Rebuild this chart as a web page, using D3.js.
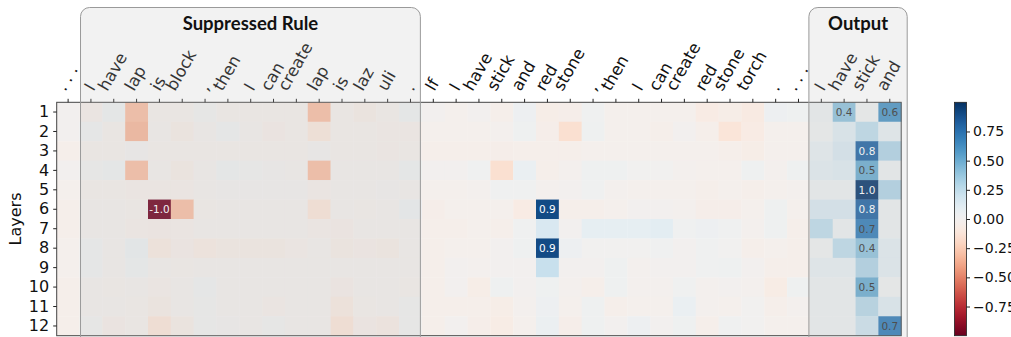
<!DOCTYPE html>
<html>
<head>
<meta charset="utf-8">
<script src="https://cdn.jsdelivr.net/npm/d3@7"></script>
<style>
  html, body { margin: 0; padding: 0; background: #fff; }
  svg { display: block; }
</style>
</head>
<body>
<svg id="chart" width="1011" height="337"></svg>
<script>
// Token labels along the top axis (context prompt, then generated output)
const tokens = [
  ". . .", "I", "have", "lap", "is", "block", ",", "then", "I", "can", "create", "lap", "is", "laz", "uli", ".",
  "If", "I", "have", "stick", "and", "red", "stone", ",", "then", "I", "can", "create", "red", "stone", "torch", ".", ". . .",
  "I", "have", "stick", "and"
];

// Layer names on the left axis
const layers = ["1", "2", "3", "4", "5", "6", "7", "8", "9", "10", "11", "12"];

// Highlighted token spans (column index ranges)
const sections = [
  { title: "Suppressed Rule", from: 1, to: 15 },
  { title: "Output", from: 33, to: 36 }
];

// Colorbar ticks
const colorTicks = [-0.75, -0.5, -0.25, 0, 0.25, 0.5, 0.75];

// Attribution value per layer (rows) and token (columns)
const layer1  = [0, -0.03, 0.03, -0.3, -0.02, -0.02, 0.01, -0.02, -0.02, -0.02, -0.02, -0.3, -0.02, -0.05, -0.02, 0.03,
                 0, -0.02, 0, -0.03, 0.04, -0.05, -0.04, 0.02, -0.02, -0.02, -0.02, -0.02, -0.07, -0.05, -0.08, 0.04, 0.03,
                 0.05, 0.4, 0.03, 0.6];
const layer2  = [0, 0.02, -0.02, -0.33, -0.01, -0.05, -0.01, 0.02, -0.01, -0.04, -0.02, -0.1, -0.02, -0.02, -0.03, -0.03,
                 -0.02, -0.02, -0.02, -0.01, 0.03, -0.04, -0.15, 0.03, -0.02, -0.02, -0.03, 0, -0.03, -0.12, -0.07, -0.02, -0.02,
                 0.03, 0.12, 0.25, 0.08];
const layer3  = [-0.03, -0.02, -0.02, 0, -0.02, -0.02, -0.02, -0.02, -0.02, -0.02, -0.02, 0, -0.02, -0.02, -0.03, -0.02,
                 -0.03, -0.03, -0.03, -0.04, -0.03, -0.03, -0.03, -0.02, -0.02, -0.02, -0.02, -0.02, -0.02, -0.03, -0.05, -0.02, -0.02,
                 0.08, 0.15, 0.8, 0.3];
const layer4  = [0, 0.01, 0.03, -0.3, -0.01, -0.05, -0.01, 0.03, 0.01, 0, -0.01, -0.3, -0.01, -0.01, -0.01, 0.03,
                 0, 0, 0.02, -0.15, 0.06, -0.03, -0.01, 0.03, 0.03, 0.01, 0.01, -0.01, -0.02, -0.02, 0.03, -0.01, 0.03,
                 0.1, 0.12, 0.5, 0.05];
const layer5  = [-0.02, -0.02, -0.02, -0.03, -0.03, -0.03, -0.01, 0, 0, 0, 0, -0.03, -0.01, -0.01, 0, -0.01,
                 -0.02, -0.02, -0.01, 0.02, 0.02, -0.01, 0, 0.02, -0.01, -0.02, -0.02, -0.02, -0.03, -0.02, -0.03, -0.02, -0.01,
                 0.05, 0.05, 0.97, 0.3];
const layer6  = [-0.03, -0.01, -0.01, -0.02, -0.98, -0.3, -0.02, -0.01, -0.01, -0.01, -0.01, -0.12, -0.01, -0.02, -0.01, 0.04,
                 -0.04, -0.02, -0.02, -0.02, -0.07, 0.9, -0.03, -0.03, -0.02, 0, 0, -0.01, -0.04, -0.04, -0.02, 0.03, -0.02,
                 0.15, 0.15, 0.8, 0.05];
const layer7  = [-0.03, -0.01, -0.01, -0.03, -0.04, -0.03, -0.01, -0.01, -0.01, -0.01, -0.01, -0.03, -0.04, -0.01, -0.01, -0.01,
                 -0.03, -0.03, -0.02, -0.03, 0.02, 0.15, 0, 0.08, 0.08, 0.08, 0.1, 0.02, 0.04, 0.02, -0.01, 0.03, -0.03,
                 0.25, 0.05, 0.7, 0.05];
const layer8  = [-0.02, 0.02, -0.01, 0.05, -0.08, -0.04, -0.07, -0.05, -0.05, -0.05, -0.03, -0.01, -0.05, -0.04, -0.05, -0.01,
                 -0.03, -0.02, -0.02, 0, 0.03, 0.9, 0.04, 0.01, 0.01, 0.01, 0.02, 0, 0.02, 0.01, -0.03, -0.02, -0.03,
                 0.03, 0.25, 0.4, 0.1];
const layer9  = [-0.02, 0.02, -0.01, 0.03, -0.01, -0.02, -0.01, -0.01, -0.01, -0.01, -0.01, -0.01, -0.01, -0.01, -0.01, -0.01,
                 -0.03, 0, -0.01, 0, 0, 0.22, 0, 0, 0.03, -0.01, 0, 0, 0.02, 0.03, 0, -0.03, -0.03,
                 0.08, 0.08, 0.3, 0.1];
const layer10 = [-0.03, -0.01, -0.02, -0.01, -0.03, -0.01, 0.02, -0.01, -0.01, -0.01, -0.01, -0.01, -0.04, -0.01, -0.01, -0.02,
                 -0.03, 0, -0.05, 0.03, 0, 0.03, -0.01, -0.03, 0.03, -0.01, -0.01, 0.02, -0.01, 0, -0.01, -0.06, 0.03,
                 0.05, 0.05, 0.5, 0.03];
const layer11 = [-0.03, -0.01, -0.01, -0.02, -0.05, -0.01, 0.01, -0.01, -0.01, -0.03, -0.01, -0.01, -0.08, -0.02, -0.01, 0.01,
                 -0.03, -0.03, -0.03, -0.05, -0.01, 0.04, -0.02, 0.03, -0.03, -0.02, -0.02, 0.06, -0.01, -0.02, 0.01, -0.03, -0.01,
                 0.05, 0.05, 0.28, 0.12];
const layer12 = [-0.03, 0.01, -0.04, -0.02, -0.12, -0.05, 0.01, 0, -0.01, 0.01, -0.01, -0.01, -0.12, -0.04, -0.06, 0.01,
                 -0.03, 0, -0.04, -0.06, -0.02, 0.05, -0.04, 0.03, 0, 0.04, 0, 0.03, -0.03, 0.02, 0.01, -0.02, -0.02,
                 0.05, 0.05, 0.2, 0.7];

const layerValues = [layer1, layer2, layer3, layer4, layer5, layer6, layer7, layer8, layer9, layer10, layer11, layer12];

// ---- layout ----
const svg = d3.select("#chart");
const plot = { left: 56.7, right: 901.2, top: 102.3, bottom: 335.7 };
const labelFont = "'DejaVu Sans', sans-serif";

const x = d3.scaleBand().domain(d3.range(tokens.length)).range([plot.left, plot.right]).padding(0);
const y = d3.scaleBand().domain(layers).range([plot.top, plot.bottom]).padding(0);
const colorOf = v => d3.interpolateRdBu((v + 1) / 2);

const cells = [];
layerValues.forEach((row, r) => row.forEach((v, c) => cells.push({ r, c, v })));

// heatmap cells
svg.append("g")
  .selectAll("rect")
  .data(cells)
  .join("rect")
  .attr("x", d => x(d.c))
  .attr("y", d => y(layers[d.r]))
  .attr("width", x.bandwidth() + 0.3)
  .attr("height", y.bandwidth() + 0.3)
  .attr("fill", d => colorOf(d.v));

// value annotations on strong cells
svg.append("g")
  .selectAll("text")
  .data(cells.filter(d => Math.abs(d.v) >= 0.35))
  .join("text")
  .attr("x", d => x(d.c) + x.bandwidth() / 2)
  .attr("y", d => y(layers[d.r]) + y.bandwidth() / 2)
  .attr("dy", "0.36em")
  .attr("text-anchor", "middle")
  .attr("font-family", labelFont)
  .attr("font-size", 10.5)
  .attr("fill", d => Math.abs(d.v) > 0.75 ? "#ffffff" : "#333333")
  .text(d => d.v.toFixed(1));

// plot frame
svg.append("rect")
  .attr("x", plot.left).attr("y", plot.top)
  .attr("width", plot.right - plot.left).attr("height", plot.bottom - plot.top)
  .attr("fill", "none").attr("stroke", "#444").attr("stroke-width", 1);

// top axis with rotated token labels
const xAxis = d3.axisTop(x).tickSize(3.5).tickFormat(() => "");
const gx = svg.append("g").attr("transform", `translate(0,${plot.top})`).call(xAxis);
gx.select(".domain").remove();
gx.selectAll(".tick line").attr("stroke", "#222");

// labels rotated 60°, each label's box centred on its tick, bottom aligned
const labelSize = 16.5;
const labelG = svg.append("g")
  .attr("font-family", labelFont)
  .attr("font-size", labelSize)
  .attr("fill", "#111");
const rad = 60 * Math.PI / 180;
const cs = Math.cos(rad), sn = Math.sin(rad);
const asc = 0.76 * labelSize, desc = 0.24 * labelSize;
const labelBottom = 94;
tokens.forEach((t, i) => {
  const txt = labelG.append("text").attr("text-anchor", "start").text(t);
  const L = txt.node().getComputedTextLength();
  const cx = x(i) + x.bandwidth() / 2;
  const ax = cx - (cs * L + sn * (desc - asc)) / 2;
  const ay = labelBottom - cs * desc;
  txt.attr("transform", `translate(${ax},${ay}) rotate(-60)`);
});

// left axis
const yAxis = d3.axisLeft(y).tickSize(3.5).tickPadding(4);
const gy = svg.append("g").attr("transform", `translate(${plot.left},0)`).call(yAxis);
gy.select(".domain").remove();
gy.selectAll(".tick line").attr("stroke", "#222");
gy.selectAll(".tick text")
  .attr("font-family", labelFont)
  .attr("font-size", 16)
  .attr("fill", "#111");

svg.append("text")
  .attr("transform", `translate(21,${(plot.top + plot.bottom) / 2}) rotate(-90)`)
  .attr("text-anchor", "middle")
  .attr("font-family", labelFont)
  .attr("font-size", 16)
  .attr("fill", "#111")
  .text("Layers");

// section boxes laid over the heatmap
const boxTop = 7.5;
const boxG = svg.append("g");
sections.forEach((s, i) => {
  const extraRight = i === sections.length - 1 ? 6 : 0;
  const bx0 = x(s.from) + (i === 0 ? 1 : -1);
  const bx1 = x(s.to) + x.bandwidth() + extraRight - (i === 0 ? 1.5 : 0);
  boxG.append("rect")
    .attr("x", bx0).attr("y", boxTop)
    .attr("width", bx1 - bx0).attr("height", 360)
    .attr("rx", 9).attr("ry", 9)
    .attr("fill", "#bdbdbd").attr("fill-opacity", 0.2)
    .attr("stroke", "#9a9a9a").attr("stroke-width", 1);
  boxG.append("text")
    .attr("x", (bx0 + bx1) / 2)
    .attr("y", 29.5)
    .attr("text-anchor", "middle")
    .attr("font-family", "Lato, 'Open Sans', sans-serif")
    .attr("font-weight", 700)
    .attr("font-size", 18.5)
    .attr("fill", "#111")
    .text(s.title);
});

// colorbar
const cb = { x: 954.5, width: 12 };
const cbScale = d3.scaleLinear().domain([-1, 1]).range([plot.bottom, plot.top]);
const defs = svg.append("defs");
const grad = defs.append("linearGradient")
  .attr("id", "rdbu").attr("x1", 0).attr("x2", 0).attr("y1", 1).attr("y2", 0);
d3.range(0, 1.0001, 0.02).forEach(t => {
  grad.append("stop").attr("offset", t).attr("stop-color", d3.interpolateRdBu(t));
});
svg.append("rect")
  .attr("x", cb.x).attr("y", plot.top)
  .attr("width", cb.width).attr("height", plot.bottom - plot.top)
  .attr("fill", "url(#rdbu)")
  .attr("stroke", "#222").attr("stroke-width", 0.8);

const cbAxis = d3.axisRight(cbScale).tickValues(colorTicks).tickSize(3.5).tickPadding(3).tickFormat(d3.format(".2f"));
const gcb = svg.append("g").attr("transform", `translate(${cb.x + cb.width},0)`).call(cbAxis);
gcb.select(".domain").remove();
gcb.selectAll(".tick line").attr("stroke", "#222");
gcb.selectAll(".tick text")
  .attr("font-family", labelFont)
  .attr("font-size", 14)
  .attr("fill", "#111");
</script>
</body>
</html>
